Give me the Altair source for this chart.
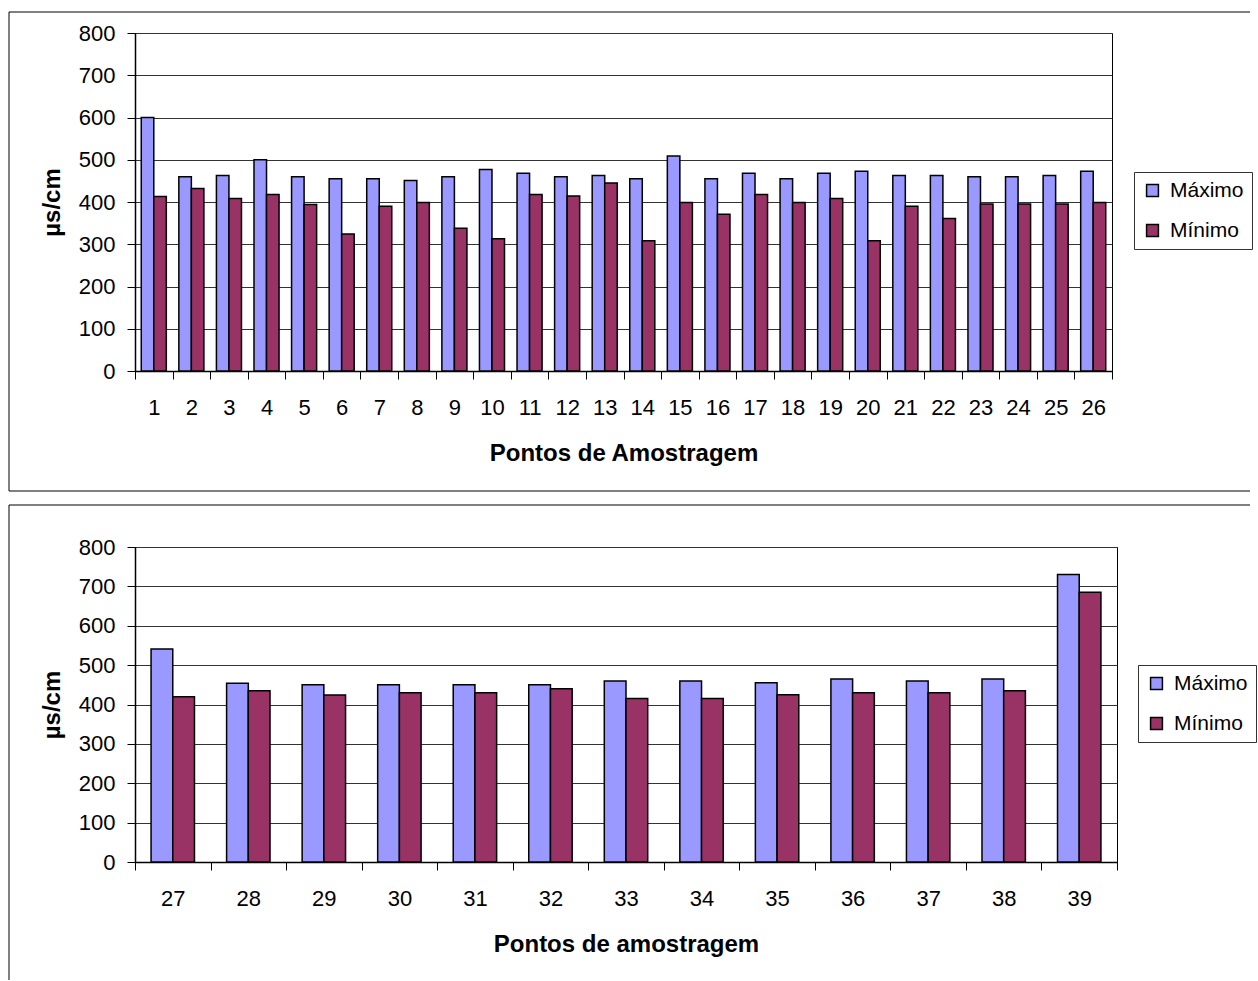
import altair as alt
import pandas as pd

# Condutividade elétrica (µs/cm) por ponto de amostragem
series = ["Máximo", "Mínimo"]
cores = ["#9999FF", "#993366"]

pontos_a = [str(i) for i in range(1, 27)]
maximo_a = [600, 460, 463, 500, 460, 455, 455, 451, 460, 477, 468, 460, 463,
            455, 509, 455, 468, 455, 468, 473, 463, 463, 460, 460, 463, 473]
minimo_a = [413, 432, 408, 418, 394, 324, 390, 399, 338, 313, 418, 414, 445,
            308, 399, 371, 418, 399, 408, 308, 390, 361, 395, 395, 395, 399]

pontos_b = [str(i) for i in range(27, 40)]
maximo_b = [541, 454, 450, 450, 450, 450, 460, 460, 455, 465, 460, 465, 730]
minimo_b = [420, 435, 424, 430, 430, 440, 415, 415, 425, 430, 430, 435, 685]

FONTE = "Liberation Sans"


def tabela(pontos, maximo, minimo):
    linhas = []
    for p, mx, mn in zip(pontos, maximo, minimo):
        linhas.append({"ponto": p, "serie": series[0], "valor": mx})
        linhas.append({"ponto": p, "serie": series[1], "valor": mn})
    return pd.DataFrame(linhas)


def moldura(x0, x1, y0, y1, com_base=True):
    """Thin box around a panel (left, top and optionally bottom edges)."""
    um = pd.DataFrame({"k": [0]})
    base = alt.Chart(um).mark_rule(color="#000", strokeWidth=1)
    partes = [
        base.encode(x=alt.value(x0), x2=alt.value(x1), y=alt.value(y0)),
        base.encode(x=alt.value(x0), y=alt.value(y0), y2=alt.value(y1)),
    ]
    if com_base:
        partes.append(base.encode(x=alt.value(x0), x2=alt.value(x1), y=alt.value(y1)))
    return partes


def painel(pontos, maximo, minimo, largura, altura, titulo_x, pad_offset,
           legenda_x, legenda_y, quadro):
    dados = tabela(pontos, maximo, minimo)
    barras = alt.Chart(dados).mark_bar(stroke="#000", strokeWidth=1.5).encode(
        x=alt.X(
            "ponto:N", sort=pontos,
            scale=alt.Scale(paddingInner=0, paddingOuter=0),
            axis=alt.Axis(
                title=titulo_x, labelAngle=0, tickBand="extent", grid=False,
                tickSize=8, labelPadding=18, titlePadding=23,
            ),
        ),
        xOffset=alt.XOffset(
            "serie:N", sort=series,
            scale=alt.Scale(paddingInner=0, paddingOuter=pad_offset),
        ),
        y=alt.Y(
            "valor:Q",
            scale=alt.Scale(domain=[0, 800]),
            axis=alt.Axis(
                title="µs/cm", values=list(range(0, 801, 100)), grid=True,
                tickSize=8, labelPadding=12, titlePadding=14,
            ),
        ),
        color=alt.Color(
            "serie:N", sort=series,
            scale=alt.Scale(domain=series, range=cores),
            legend=alt.Legend(
                title=None, orient="none", legendX=legenda_x, legendY=legenda_y,
                symbolType="square", symbolSize=140, symbolStrokeColor="#000",
                symbolStrokeWidth=1.5, labelFontSize=21, labelFont=FONTE,
                labelOffset=7, rowPadding=18, padding=8,
                strokeColor="#333", fillColor="#fff", cornerRadius=0,
            ),
        ),
    )
    return alt.layer(*moldura(*quadro), barras).properties(width=largura, height=altura)


topo = painel(pontos_a, maximo_a, minimo_a, 977, 338, "Pontos de Amostragem",
              0.5, 999, 139, (-126, 1115, -21, 458, True))
baixo = painel(pontos_b, maximo_b, minimo_b, 982, 315, "Pontos de amostragem",
               0.74, 1003, 118, (-126, 1115, -42, 433, False))

chart = alt.vconcat(topo, baixo, spacing=12).resolve_scale(
    xOffset="independent", color="independent"
).properties(
    padding={"top": 11, "left": 8, "right": 0, "bottom": 0}
).configure(
    font=FONTE,
).configure_view(
    stroke="#000", strokeWidth=1,
).configure_axis(
    labelFont=FONTE, labelFontSize=22, labelColor="#000",
    titleFont=FONTE, titleFontSize=24, titleFontWeight="bold", titleColor="#000",
    domainColor="#000", domainWidth=1.5, tickColor="#000", tickWidth=1,
    gridColor="#333", gridWidth=1,
)

chart.save("out.html", embed_options={"renderer": "svg", "actions": False})
